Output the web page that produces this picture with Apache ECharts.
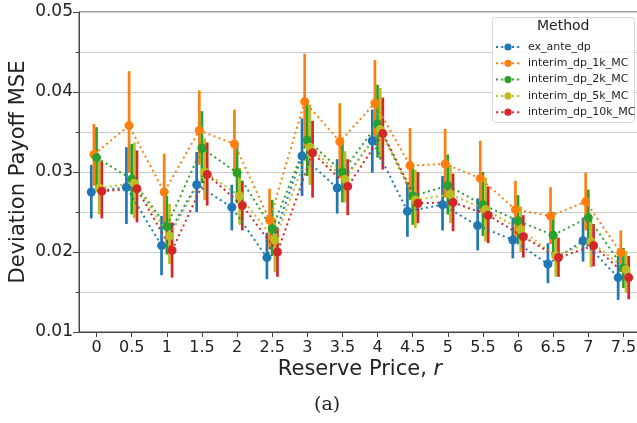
<!DOCTYPE html>
<html><head><meta charset="utf-8">
<script src="https://cdn.jsdelivr.net/npm/echarts@6/dist/echarts.min.js"></script>
<style>html,body{margin:0;padding:0;background:#fff}#c{width:637px;height:423px}</style>
</head><body><div id="c"></div>
<script>
const categories = ['0','0.5','1','1.5','2','2.5','3','3.5','4','4.5','5','5.5','6','6.5','7','7.5'];
const methods = ['ex_ante_dp','interim_dp_1k_MC','interim_dp_2k_MC','interim_dp_5k_MC','interim_dp_10k_MC'];
const colors = ['#1f77b4','#ff7f0e','#2ca02c','#bcbd22','#d62728'];

const exAnteMean = [0.0275,0.0281,0.0208,0.0284,0.0256,0.0193,0.0320,0.0280,0.0339,0.0251,0.0259,0.0233,0.0215,0.0185,0.0214,0.0168];
const exAnteLow  = [0.0242,0.0235,0.0171,0.0250,0.0227,0.0166,0.0270,0.0248,0.0299,0.0219,0.0227,0.0202,0.0192,0.0161,0.0188,0.0140];
const exAnteHigh = [0.0309,0.0331,0.0245,0.0325,0.0284,0.0224,0.0367,0.0316,0.0378,0.0286,0.0295,0.0267,0.0243,0.0211,0.0243,0.0195];

const mc1kMean = [0.0322,0.0358,0.0275,0.0352,0.0335,0.0240,0.0388,0.0338,0.0386,0.0308,0.0310,0.0292,0.0253,0.0245,0.0263,0.0199];
const mc1kLow  = [0.0283,0.0299,0.0232,0.0309,0.0295,0.0203,0.0330,0.0292,0.0335,0.0265,0.0268,0.0250,0.0218,0.0210,0.0227,0.0175];
const mc1kHigh = [0.0360,0.0426,0.0323,0.0402,0.0378,0.0279,0.0448,0.0386,0.0440,0.0355,0.0354,0.0339,0.0289,0.0281,0.0299,0.0227];

const mc2kMean = [0.0318,0.0291,0.0232,0.0330,0.0299,0.0229,0.0340,0.0300,0.0360,0.0270,0.0283,0.0259,0.0239,0.0221,0.0243,0.0180];
const mc2kLow  = [0.0278,0.0247,0.0197,0.0286,0.0261,0.0195,0.0295,0.0262,0.0318,0.0234,0.0247,0.0220,0.0211,0.0194,0.0207,0.0155];
const mc2kHigh = [0.0356,0.0335,0.0270,0.0376,0.0336,0.0265,0.0389,0.0340,0.0409,0.0309,0.0322,0.0300,0.0271,0.0250,0.0278,0.0205];

const mc5kMean = [0.0280,0.0286,0.0220,0.0300,0.0270,0.0215,0.0331,0.0291,0.0353,0.0265,0.0272,0.0253,0.0228,0.0195,0.0213,0.0178];
const mc5kLow  = [0.0247,0.0242,0.0185,0.0265,0.0234,0.0175,0.0284,0.0262,0.0315,0.0230,0.0236,0.0213,0.0200,0.0169,0.0181,0.0149];
const mc5kHigh = [0.0315,0.0337,0.0260,0.0342,0.0305,0.0243,0.0384,0.0326,0.0405,0.0303,0.0309,0.0293,0.0257,0.0222,0.0240,0.0201];

const mc10kMean = [0.0276,0.0279,0.0202,0.0297,0.0258,0.0200,0.0324,0.0282,0.0348,0.0261,0.0262,0.0246,0.0219,0.0193,0.0208,0.0168];
const mc10kLow  = [0.0242,0.0237,0.0168,0.0258,0.0227,0.0169,0.0268,0.0246,0.0303,0.0236,0.0226,0.0211,0.0193,0.0169,0.0182,0.0141];
const mc10kHigh = [0.0313,0.0327,0.0237,0.0337,0.0289,0.0230,0.0364,0.0316,0.0393,0.0300,0.0298,0.0282,0.0246,0.0218,0.0235,0.0195];

const yTicks = [0.01,0.02,0.03,0.04,0.05];

const means = [exAnteMean, mc1kMean, mc2kMean, mc5kMean, mc10kMean];
const lows = [exAnteLow, mc1kLow, mc2kLow, mc5kLow, mc10kLow];
const highs = [exAnteHigh, mc1kHigh, mc2kHigh, mc5kHigh, mc10kHigh];
const dodge = 0.075;

const series = [];
methods.forEach((name, m) => {
  const off = (m - 2) * dodge;
  series.push({
    type: 'custom', name: name + ' CI', xAxisIndex: 1, yAxisIndex: 0, silent: true,
    itemStyle: { color: colors[m] },
    data: categories.map((c, i) => [i + off, lows[m][i], highs[m][i]]),
    encode: { x: 0, y: [1, 2] },
    renderItem: function (params, api) {
      const p1 = api.coord([api.value(0), api.value(1)]);
      const p2 = api.coord([api.value(0), api.value(2)]);
      return { type: 'line', shape: { x1: p1[0], y1: p1[1], x2: p2[0], y2: p2[1] },
               style: { stroke: colors[m], lineWidth: 2.7 } };
    },
    z: 2
  });
  series.push({
    type: 'line', name: name, xAxisIndex: 1, yAxisIndex: 0,
    data: categories.map((c, i) => [i + off, means[m][i]]),
    symbol: 'circle', symbolSize: 9, showSymbol: true,
    itemStyle: { color: colors[m] },
    lineStyle: { color: colors[m], width: 2, type: [2, 3.3] },
    emphasis: { disabled: true },
    z: 2
  });
});

const chart = echarts.init(document.getElementById('c'), null, { renderer: 'canvas' });
chart.setOption({
  animation: false,
  backgroundColor: '#fff',
  grid: { left: 79, top: 12, width: 562, height: 320, show: true, borderColor: '#444', borderWidth: 1,
          backgroundColor: 'transparent', containLabel: false, outerBoundsMode: 'none' },
  xAxis: [
    { type: 'category', data: categories, boundaryGap: true,
      axisLine: { show: true, onZero: false, lineStyle: { color: '#444', width: 1 } },
      axisTick: { show: true, alignWithLabel: true, length: 5, lineStyle: { color: '#444' } },
      axisLabel: { color: '#222', fontSize: 16, fontFamily: 'DejaVu Sans', margin: 8 },
      splitLine: { show: false },
      name: 'Reserve Price, {i|r}', nameLocation: 'middle', nameGap: 27, nameMoveOverlap: false,
      nameTextStyle: { color: '#222', fontSize: 21, fontFamily: 'DejaVu Sans',
        rich: { i: { fontSize: 21, fontStyle: 'italic', fontFamily: 'DejaVu Sans', color: '#222' } } }
    },
    { type: 'value', min: -0.5, max: 15.5, show: false, splitLine: { show: false },
      axisLine: { onZero: false } }
  ],
  yAxis: {
    type: 'value', min: 0.01, max: 0.05, interval: 0.01,
    axisLine: { show: true, onZero: false, lineStyle: { color: '#444', width: 1 } },
    axisTick: { show: true, length: 6, lineStyle: { color: '#444' } },
    minorTick: { show: true, splitNumber: 2, length: 3.5, lineStyle: { color: '#444' } },
    splitLine: { show: true, lineStyle: { color: '#cccccc', width: 1 } },
    minorSplitLine: { show: true, lineStyle: { color: '#cccccc', width: 1 } },
    axisLabel: { color: '#222', fontSize: 17, fontFamily: 'DejaVu Sans', margin: 6,
      formatter: v => { const t = yTicks.find(k => Math.abs(k - v) < 1e-9); return t !== undefined ? t.toFixed(2) : ''; } },
    name: 'Deviation Payoff MSE', nameLocation: 'middle', nameGap: 50, nameMoveOverlap: false,
    nameTextStyle: { color: '#222', fontSize: 21, fontFamily: 'DejaVu Sans' }
  },
  legend: {
    data: methods, orient: 'vertical', left: 495, top: 39, z: 95, padding: 0,
    itemWidth: 24, itemHeight: 9, itemGap: 0.3,
    textStyle: { fontSize: 11, fontFamily: 'DejaVu Sans', color: '#222', lineHeight: 16, padding: [0, 0, 0, 3] },
    selectedMode: false
  },
  graphic: [
    { type: 'rect', left: 492, top: 17, z: 90, shape: { width: 142, height: 105, r: 3 },
      style: { fill: 'rgba(255,255,255,0.85)', stroke: '#d8d8d8', lineWidth: 1 } },
    { type: 'text', left: 537, top: 19, z: 100,
      style: { text: 'Method', fontSize: 14, fontFamily: 'DejaVu Sans', fill: '#222' } },
    { type: 'text', left: 314, top: 396, z: 100,
      style: { text: '(a)', fontSize: 19, fontFamily: 'DejaVu Serif', fill: '#222' } }
  ],
  series: series
});
</script>
</body></html>
